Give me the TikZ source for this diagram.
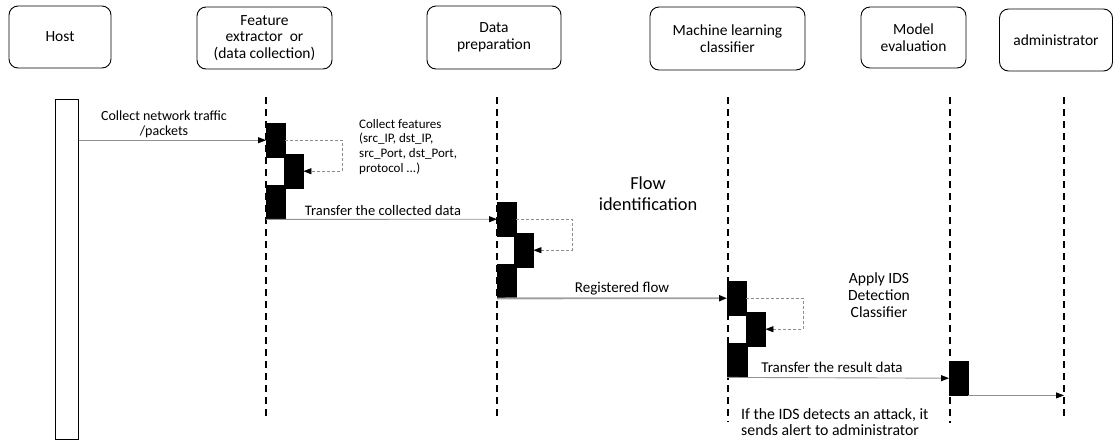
\documentclass[tikz,border=0pt]{standalone}
\usepackage{fontspec}
\setmainfont{Carlito}
\usetikzlibrary{arrows.meta}
\begin{document}
\begin{tikzpicture}[x=1pt,y=-1pt,
  lane/.style={draw, rounded corners=9pt, line width=0.9pt, inner sep=0pt, align=center, font=\fontsize{15.5}{16.5}\selectfont},
  act/.style={fill=black, draw=black, line width=0.4pt, minimum width=19pt, minimum height=34pt, inner sep=0pt, anchor=north west},
  hostbarstyle/.style={fill=white, draw=black, line width=1.1pt, minimum width=23pt, minimum height=340pt, inner sep=0pt, anchor=north west},
  lifeline/.style={line width=1.6pt, dash pattern=on 7pt off 5pt},
  msg/.style={draw=gray!85, line width=0.9pt, -{Triangle[length=8pt,width=6pt,color=black]}},
  bigmsg/.style={draw=gray!75, line width=1.8pt, -{Triangle[length=8pt,width=6pt,color=black]}},
  selfmsg/.style={draw=gray!90, line width=0.7pt, dash pattern=on 3pt off 2pt, -{Triangle[length=8pt,width=6pt,color=black]}},
  lbl/.style={inner sep=0pt, align=center, font=\fontsize{14.5}{15}\selectfont},
]
\useasboundingbox (0,0) rectangle (1114,440);

% lane headers
\node[lane, minimum width=102pt, minimum height=62pt] (host) at (60,37) {Host};
\node[lane, minimum width=135pt, minimum height=62pt] (feat) at (264.5,38) {Feature\\extractor~~or\\(data collection)};
\node[lane, minimum width=134pt, minimum height=63pt] (prep) at (494,37.5) {Data\\preparation};
\node[lane, minimum width=155pt, minimum height=63pt] (ml) at (727.5,38.5) {Machine learning\\classifier};
\node[lane, minimum width=105pt, minimum height=61pt] (eval) at (913.5,37.5) {Model\\evaluation};
\node[lane, minimum width=113pt, minimum height=62pt] (admin) at (1056,40) {administrator};

% lifelines
\coordinate (fTop) at (266,97);  \coordinate (fBot) at (266,420);
\coordinate (dTop) at (497,97);  \coordinate (dBot) at (497,420);
\coordinate (mTop) at (728,97);  \coordinate (mBot) at (728,422);
\coordinate (eTop) at (950,97);  \coordinate (eBot) at (950,423);
\coordinate (aTop) at (1064,97); \coordinate (aBot) at (1064,418);
\draw[lifeline] (fTop) -- (fBot);
\draw[lifeline] (dTop) -- (dBot);
\draw[lifeline] (mTop) -- (mBot);
\draw[lifeline] (eTop) -- (eBot);
\draw[lifeline] (aTop) -- (aBot);

% host bar
\node[hostbarstyle] (hostbar) at (55,99) {};

% activation blocks
\node[act] (f1) at (266,123) {};
\node[act] (f2) at (284,154) {};
\node[act] (f3) at (266,185) {};
\node[act] (d1) at (497,202) {};
\node[act] (d2) at (514,233) {};
\node[act] (d3) at (497,264) {};
\node[act] (m1) at (727,281) {};
\node[act] (m2) at (746,312) {};
\node[act, minimum width=20pt] (m3) at (727,343) {};
\node[act] (e1) at (949,361) {};

% messages
\draw[msg] (hostbar.east |- f1.west) -- (f1.west);
\draw[selfmsg] (f1.east) -- ++(57,0) |- (f2.east);
\draw[msg] (f3.south west) -- (d1.west);
\draw[selfmsg] (d1.east) -- ++(56,0) |- (d2.east);
\draw[bigmsg] (d3.south west) -- (m1.west);
\draw[selfmsg] (m1.east) -- ++(57,0) |- (m2.east);
\draw[msg] (m3.south west) -- (e1.west);
\draw[msg] (e1.south east) -- (e1.south east -| aTop);

% labels
\node[lbl, font=\fontsize{14}{15}\selectfont] (l1) at (164,124.5) {Collect network traffic\\/packets};
\node[lbl, anchor=north west, align=left, font=\fontsize{13}{14.7}\selectfont] (l2) at (359,119) {Collect features\\(src\_IP, dst\_IP,\\src\_Port, dst\_Port,\\protocol ...)};
\node[lbl] (l3) at (383,211) {Transfer the collected data};
\node[lbl, font=\fontsize{18.4}{21}\selectfont] (l4) at (648,193.5) {Flow\\identification};
\node[lbl, font=\fontsize{15}{15}\selectfont] (l5) at (622,289) {Registered flow};
\node[lbl, font=\fontsize{15.6}{17}\selectfont] (l6) at (879,295) {Apply IDS\\Detection\\Classifier};
\node[lbl, font=\fontsize{15}{15}\selectfont] (l7) at (832,367) {Transfer the result data};
\node[lbl, anchor=west, align=left, font=\fontsize{15.8}{16.5}\selectfont] (l8) at (741,422) {If the IDS detects an attack, it\\sends alert to administrator};
\end{tikzpicture}
\end{document}
